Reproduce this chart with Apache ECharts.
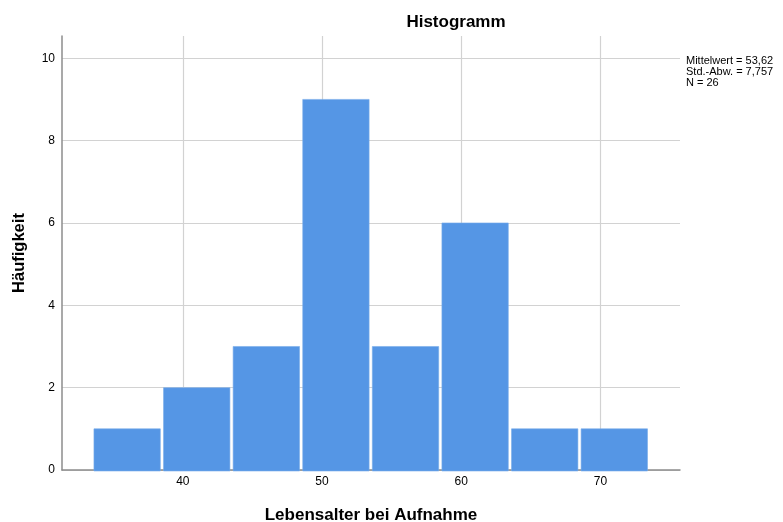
<!DOCTYPE html>
<html>
<head>
<meta charset="utf-8">
<script src="https://cdn.jsdelivr.net/npm/echarts@6/dist/echarts.min.js"></script>
<style>
 html, body { margin: 0; padding: 0; background: #fff; }
 #main { width: 783px; height: 522px; }
</style>
</head>
<body>
<div id="main"></div>
<script>
// Klassen (Beginn jeder Klasse, Breite 5) und Häufigkeiten
var binStarts = [33.5, 38.5, 43.5, 48.5, 53.5, 58.5, 63.5, 68.5];
var binWidth = 5;
var counts = [1, 2, 3, 9, 3, 6, 1, 1];
var xTicks = [40, 50, 60, 70];
var yTicks = [0, 2, 4, 6, 8, 10];
var statLines = ['Mittelwert = 53,62', 'Std.-Abw. = 7,757', 'N = 26'];

var chart = echarts.init(document.getElementById('main'));

var seriesData = [];
for (var i = 0; i < binStarts.length; i++) {
  seriesData.push([binStarts[i], binStarts[i] + binWidth, counts[i]]);
}

var option = {
  animation: false,
  textStyle: { fontFamily: 'Liberation Sans, Arial, sans-serif' },
  title: {
    text: 'Histogramm',
    left: 451,
    top: 9,
    textAlign: 'center',
    textStyle: { fontSize: 17, fontWeight: 'bold', color: '#000' }
  },
  grid: { left: 62, right: 103, top: 36, bottom: 52, outerBoundsMode: 'none', containLabel: false },
  xAxis: {
    type: 'value',
    min: 31.32,
    max: 75.72,
    name: 'Lebensalter bei Aufnahme',
    nameLocation: 'middle',
    nameGap: 37,
    nameTextStyle: { fontSize: 17, fontWeight: 'bold', color: '#000' },
    axisLine: { show: true, lineStyle: { color: '#8c8c8c', width: 1.5 } },
    axisTick: { show: false, customValues: xTicks },
    axisLabel: { customValues: xTicks, color: '#000', fontSize: 12, margin: 6 },
    splitLine: { show: true, lineStyle: { color: '#d2d2d2', width: 1.2 } }
  },
  yAxis: {
    type: 'value',
    min: 0,
    max: 10.54,
    name: 'Häufigkeit',
    nameLocation: 'middle',
    nameGap: 34,
    nameTextStyle: { fontSize: 16.5, fontWeight: 'bold', color: '#000' },
    axisLine: { show: true, lineStyle: { color: '#8c8c8c', width: 1.5 } },
    axisTick: { show: false, customValues: yTicks },
    axisLabel: { customValues: yTicks, color: '#000', fontSize: 12, margin: 7 },
    splitLine: { show: true, lineStyle: { color: '#d2d2d2', width: 1.2 } }
  },
  graphic: [{
    type: 'text',
    left: 686,
    top: 55,
    style: {
      text: statLines.join('\n'),
      fill: '#000',
      font: '11px Liberation Sans, Arial, sans-serif',
      lineHeight: 11
    }
  }],
  series: [{
    type: 'custom',
    data: seriesData,
    encode: { x: [0, 1], y: 2 },
    z: 3,
    renderItem: function (params, api) {
      var p0 = api.coord([api.value(0), 0]);
      var p1 = api.coord([api.value(1), api.value(2)]);
      var gap = 1.6;
      return {
        type: 'rect',
        shape: {
          x: p0[0] + gap,
          y: p1[1],
          width: p1[0] - p0[0] - 2 * gap,
          height: p0[1] - p1[1] + 1
        },
        style: { fill: '#5596e5', stroke: '#79acea', lineWidth: 0.6 }
      };
    }
  }]
};

chart.setOption(option);
</script>
</body>
</html>
